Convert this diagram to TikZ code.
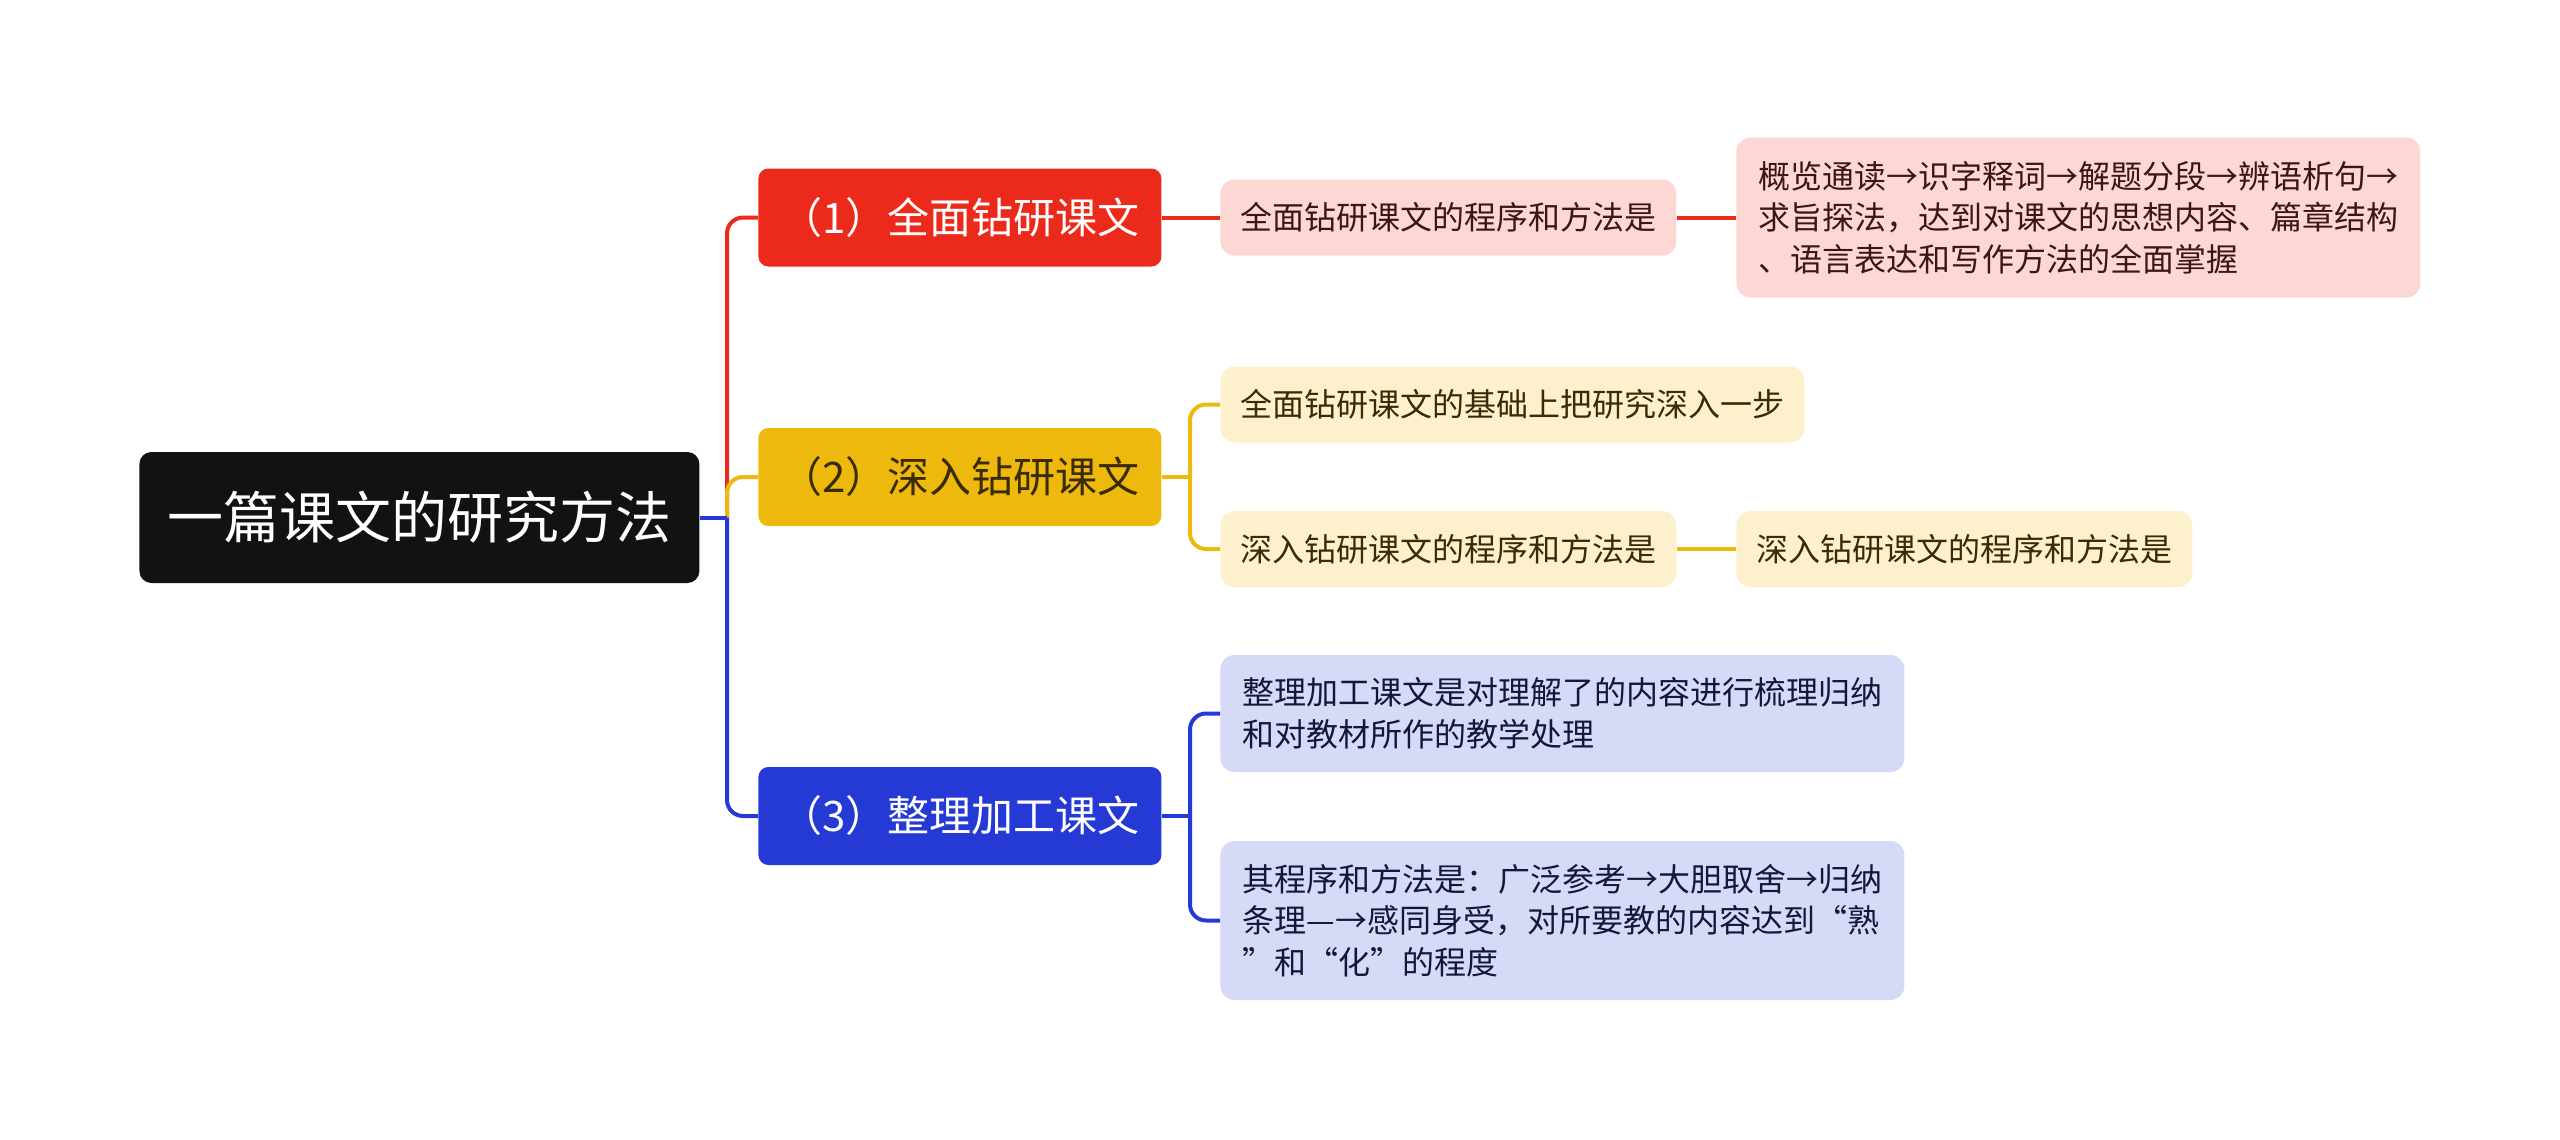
\documentclass[tikz,border=0pt]{standalone}
\usepackage{fontspec}
\setmainfont{Noto Sans CJK SC}
\definecolor{cRed}{HTML}{EC2A1C}
\definecolor{cYel}{HTML}{EEB90D}
\definecolor{cBlue}{HTML}{2539D5}
\definecolor{lRed}{HTML}{FCD7D4}
\definecolor{lYel}{HTML}{FDF1CD}
\definecolor{lBlue}{HTML}{D6DAF7}
\definecolor{tRed}{HTML}{3A1714}
\definecolor{tYel}{HTML}{3A2A06}
\definecolor{tBlue}{HTML}{15173A}
\tikzset{
  rootbox/.style={anchor=west, fill=black!93, text=white, rounded corners=6pt,
    minimum width=280pt, minimum height=65.5pt, inner sep=0pt,
    font=\fontsize{28pt}{32pt}\selectfont},
  lonebox/.style={anchor=west, rounded corners=5pt, minimum width=201.5pt,
    minimum height=49pt, inner sep=0pt, font=\fontsize{21pt}{25pt}\selectfont},
  ltwobox/.style={anchor=west, rounded corners=7pt, inner xsep=10pt, inner ysep=0pt,
    align=left, font=\fontsize{16pt}{20.8pt}\selectfont},
  conn/.style={line width=2pt, rounded corners=8pt},
}
\begin{document}
\begin{tikzpicture}[x=0.5pt,y=-0.5pt]
\useasboundingbox (0,0) rectangle (2560,1140);
% nodes
\node[rootbox] (root) at (139,517.5) {一篇课文的研究方法};
\node[lonebox, fill=cRed, text=white] (n1) at (758,217.5) {（1）全面钻研课文};
\node[lonebox, fill=cYel, text=tYel] (n2) at (758,477) {（2）深入钻研课文};
\node[lonebox, fill=cBlue, text=white] (n3) at (758,816) {（3）整理加工课文};
\node[ltwobox, fill=lRed, text=tRed, minimum height=38pt] (r2) at (1220,217.5) {全面钻研课文的程序和方法是};
\node[ltwobox, fill=lRed, text=tRed, minimum height=80pt, inner xsep=11pt] (r3) at (1736,217.5) {概览通读→识字释词→解题分段→辨语析句→\\求旨探法，达到对课文的思想内容、篇章结构\\、语言表达和写作方法的全面掌握};
\node[ltwobox, fill=lYel, text=tYel, minimum height=38pt] (y2a) at (1220,404.5) {全面钻研课文的基础上把研究深入一步};
\node[ltwobox, fill=lYel, text=tYel, minimum height=38pt] (y2b) at (1220,549) {深入钻研课文的程序和方法是};
\node[ltwobox, fill=lYel, text=tYel, minimum height=38pt] (y3) at (1736,549) {深入钻研课文的程序和方法是};
\node[ltwobox, fill=lBlue, text=tBlue, minimum height=58.5pt, minimum width=342pt] (b2a) at (1220,713.5) {整理加工课文是对理解了的内容进行梳理归纳\\和对教材所作的教学处理};
\node[ltwobox, fill=lBlue, text=tBlue, minimum height=79.5pt, minimum width=342pt] (b2b) at (1220,920.5) {其程序和方法是：广泛参考→大胆取舍→归纳\\条理—→感同身受，对所要教的内容达到“熟\\”和“化”的程度};
% junctions
\coordinate (j) at (727,517.5);
\coordinate (jy) at (1190,477);
\coordinate (jb) at (1190,816);
% connectors
\draw[conn, cRed] (j) |- (n1.west);
\draw[conn, cYel] (j) |- (n2.west);
\draw[line width=2pt, cBlue] (root.east) -- (j);
\draw[conn, cBlue] (j) |- (n3.west);
\draw[conn, cRed] (n1.east) -- (r2.west);
\draw[conn, cRed] (r2.east) -- (r3.west);
\draw[line width=2pt, cYel] (n2.east) -- (jy);
\draw[conn, cYel] (jy) |- (y2a.west);
\draw[conn, cYel] (jy) |- (y2b.west);
\draw[conn, cYel] (y2b.east) -- (y3.west);
\draw[line width=2pt, cBlue] (n3.east) -- (jb);
\draw[conn, cBlue] (jb) |- (b2a.west);
\draw[conn, cBlue] (jb) |- (b2b.west);
\end{tikzpicture}
\end{document}
